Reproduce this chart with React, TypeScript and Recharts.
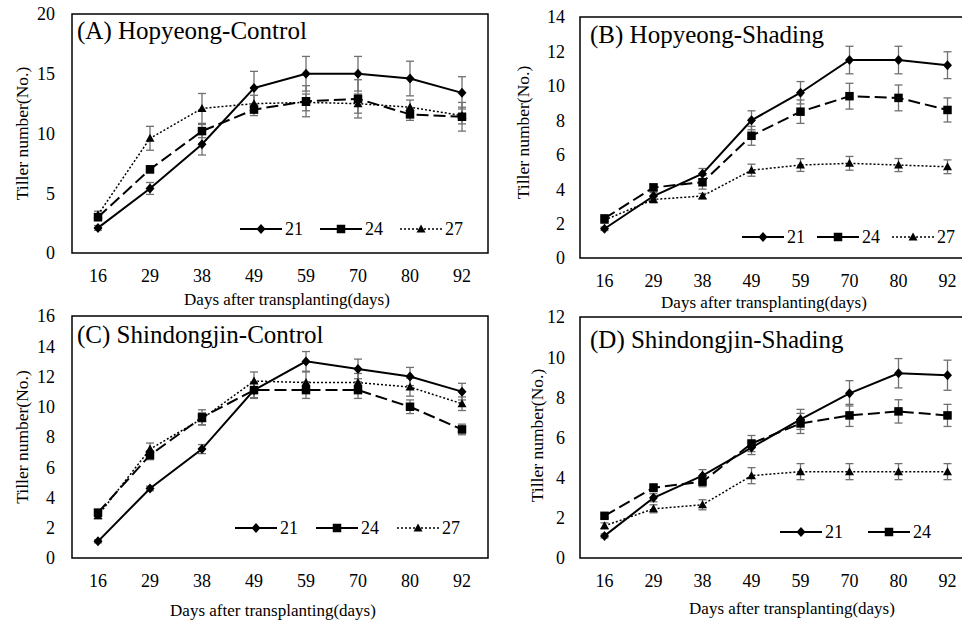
import React from 'react';
import { LineChart, Line, XAxis, YAxis, ErrorBar, ReferenceArea, Legend, Label } from 'recharts';

const FONT = "'Liberation Serif', Tinos, 'DejaVu Serif', 'Noto Serif', serif";

const days = ['16', '29', '38', '49', '59', '70', '80', '92'];

// (A) Hopyeong-Control
const aVal21 = [2.1, 5.4, 9.1, 13.8, 15.0, 15.0, 14.6, 13.4];
const aErr21 = [0.2, 0.5, 0.9, 1.4, 1.45, 1.45, 1.45, 1.35];
const aVal24 = [3.0, 7.0, 10.2, 12.0, 12.7, 12.9, 11.6, 11.4];
const aErr24 = [0.3, 0.3, 0.55, 0.5, 1.3, 1.6, 0.5, 1.2];
const aVal27 = [3.2, 9.6, 12.1, 12.5, 12.6, 12.5, 12.2, 11.5];
const aErr27 = [0.3, 1.0, 1.25, 0.7, 0.7, 0.8, 0.6, 0.7];

// (B) Hopyeong-Shading
const bVal21 = [1.7, 3.6, 4.9, 8.0, 9.6, 11.5, 11.5, 11.2];
const bErr21 = [0.1, 0.2, 0.3, 0.55, 0.65, 0.8, 0.8, 0.78];
const bVal24 = [2.3, 4.1, 4.4, 7.1, 8.5, 9.4, 9.3, 8.6];
const bErr24 = [0.1, 0.2, 0.4, 0.55, 0.68, 0.75, 0.75, 0.7];
const bVal27 = [2.2, 3.4, 3.6, 5.1, 5.4, 5.5, 5.4, 5.3];
const bErr27 = [0.1, 0.2, 0.15, 0.35, 0.37, 0.4, 0.38, 0.4];

// (C) Shindongjin-Control
const cVal21 = [1.1, 4.6, 7.2, 11.1, 13.0, 12.5, 12.0, 11.0];
const cErr21 = [0.1, 0.15, 0.3, 0.5, 0.65, 0.65, 0.6, 0.55];
const cVal24 = [3.0, 6.8, 9.3, 11.1, 11.1, 11.1, 10.0, 8.5];
const cErr24 = [0.2, 0.3, 0.5, 0.55, 0.55, 0.55, 0.45, 0.35];
const cVal27 = [2.8, 7.2, 9.2, 11.7, 11.6, 11.6, 11.3, 10.2];
const cErr27 = [0.2, 0.4, 0.4, 0.6, 0.7, 0.6, 0.6, 0.45];

// (D) Shindongjin-Shading
const dVal21 = [1.1, 3.0, 4.1, 5.5, 6.9, 8.2, 9.2, 9.1];
const dErr21 = [0.1, 0.2, 0.3, 0.35, 0.5, 0.63, 0.73, 0.75];
const dVal24 = [2.1, 3.5, 3.8, 5.7, 6.7, 7.1, 7.3, 7.1];
const dErr24 = [0.1, 0.2, 0.25, 0.4, 0.5, 0.55, 0.58, 0.55];
const dVal27 = [1.6, 2.45, 2.65, 4.1, 4.3, 4.3, 4.3, 4.3];
const dErr27 = [0.15, 0.2, 0.25, 0.4, 0.4, 0.4, 0.4, 0.4];

const yTicksA = [0, 5, 10, 15, 20];
const yTicksB = [0, 2, 4, 6, 8, 10, 12, 14];
const yTicksC = [0, 2, 4, 6, 8, 10, 12, 14, 16];
const yTicksD = [0, 2, 4, 6, 8, 10, 12];

const buildRows = (v21, e21, v24, e24, v27, e27) =>
  days.map((day, i) => ({
    i,
    day,
    v21: v21[i],
    e21: e21[i],
    v24: v24[i],
    e24: e24[i],
    v27: v27[i],
    e27: e27[i],
  }));

const Diamond = ({ cx, cy }: any) => (
  <polygon points={`${cx},${cy - 5} ${cx + 4.5},${cy} ${cx},${cy + 5} ${cx - 4.5},${cy}`} fill="#000" />
);
const Square = ({ cx, cy }: any) => <rect x={cx - 4.25} y={cy - 4.25} width={8.5} height={8.5} fill="#000" />;
const Triangle = ({ cx, cy }: any) => (
  <polygon points={`${cx},${cy - 4.5} ${cx + 4.5},${cy + 3.5} ${cx - 4.5},${cy + 3.5}`} fill="#000" />
);

const markers: any = { v21: Diamond, v24: Square, v27: Triangle };
const dotFor = (Shape: any) => (p: any) => <Shape key={p.index} cx={p.cx} cy={p.cy} />;

const legendContent = (itemW: number, hide: string[]) => ({ payload }: any) => (
  <div style={{ display: 'flex', alignItems: 'center', fontFamily: FONT, fontSize: 18, lineHeight: '22px', color: '#000' }}>
    {(payload || [])
      .filter((entry: any) => !hide.includes(entry.dataKey))
      .map((entry: any) => {
        const Shape = markers[entry.dataKey];
        const dotted = entry.dataKey === 'v27';
        return (
          <div key={entry.dataKey} style={{ display: 'flex', alignItems: 'center', width: itemW }}>
            <svg width={42} height={12}>
              <line x1={0} y1={6} x2={42} y2={6} stroke="#000" strokeWidth={dotted ? 1.5 : 2} strokeDasharray={dotted ? '2 2' : undefined} />
              <Shape cx={21} cy={6} />
            </svg>
            <span style={{ marginLeft: 3 }}>{entry.value}</span>
          </div>
        );
      })}
  </div>
);

const Panel = ({ cfg, rows, title, yMax, yTicks, hideLegend = [] }: any) => {
  const yAxisW = 72;
  const width = yAxisW + cfg.plotW + 4;
  const height = cfg.plotTop + cfg.plotH + 70;
  return (
    <div style={{ position: 'absolute', left: cfg.plotLeft - yAxisW, top: cfg.top }}>
      <LineChart width={width} height={height} data={rows} margin={{ top: cfg.plotTop, right: 4, bottom: 0, left: 0 }}>
        <XAxis
          dataKey="i"
          type="number"
          domain={[-0.5, 7.5]}
          ticks={days.map((_, i) => i)}
          tickFormatter={(i) => days[i]}
          interval={0}
          axisLine={false}
          tickLine={false}
          tickSize={0}
          tickMargin={16}
          height={70}
          tick={{ fill: '#000', fontSize: 18, fontFamily: FONT }}
        >
          <Label
            content={({ viewBox }: any) => (
              <text
                x={viewBox.x + viewBox.width / 2 + cfg.xLabelDx}
                y={viewBox.y + cfg.xLabelDy}
                textAnchor="middle"
                dominantBaseline="central"
                fontFamily={FONT}
                fontSize={17}
                fill="#000"
              >
                Days after transplanting(days)
              </text>
            )}
          />
        </XAxis>
        <YAxis
          type="number"
          domain={[0, yMax]}
          ticks={yTicks}
          interval={0}
          axisLine={false}
          tickLine={false}
          tickSize={0}
          tickMargin={cfg.yTickGap}
          width={yAxisW}
          tick={{ fill: '#000', fontSize: 18, fontFamily: FONT }}
        >
          <Label
            content={({ viewBox }: any) => {
              const x = viewBox.x + viewBox.width - cfg.yLabelGap;
              const y = viewBox.y + viewBox.height / 2 + cfg.yLabelDy;
              return (
                <text
                  x={x}
                  y={y}
                  transform={`rotate(-90, ${x}, ${y})`}
                  textAnchor="middle"
                  dominantBaseline="central"
                  fontFamily={FONT}
                  fontSize={17.5}
                  fill="#000"
                >
                  Tiller number(No.)
                </text>
              );
            }}
          />
        </YAxis>
        <ReferenceArea x1={-0.5} x2={7.5} y1={0} y2={yMax} fill="none" stroke="#000" strokeWidth={1.5} ifOverflow="visible">
          <Label
            content={({ viewBox }: any) => (
              <text x={viewBox.x + cfg.titleDx} y={viewBox.y + cfg.titleBase} fontFamily={FONT} fontSize={25} fill="#000">
                {title}
              </text>
            )}
          />
        </ReferenceArea>
        <Line
          dataKey="v27"
          name="27"
          stroke="#000"
          strokeWidth={1.5}
          strokeDasharray="2 2"
          dot={dotFor(Triangle)}
          activeDot={false}
          isAnimationActive={false}
        >
          <ErrorBar dataKey="e27" width={4} stroke="#707070" strokeWidth={1.3} direction="y" isAnimationActive={false} />
        </Line>
        <Line
          dataKey="v24"
          name="24"
          stroke="#000"
          strokeWidth={2}
          strokeDasharray="12 5"
          dot={dotFor(Square)}
          activeDot={false}
          isAnimationActive={false}
        >
          <ErrorBar dataKey="e24" width={4} stroke="#707070" strokeWidth={1.3} direction="y" isAnimationActive={false} />
        </Line>
        <Line
          dataKey="v21"
          name="21"
          stroke="#000"
          strokeWidth={2}
          dot={dotFor(Diamond)}
          activeDot={false}
          isAnimationActive={false}
        >
          <ErrorBar dataKey="e21" width={4} stroke="#707070" strokeWidth={1.3} direction="y" isAnimationActive={false} />
        </Line>
        <Legend
          layout="horizontal"
          verticalAlign="middle"
          align="center"
          itemSorter={(item: any) => item.value}
          wrapperStyle={{ left: cfg.legendX - (cfg.plotLeft - yAxisW), top: cfg.legendY - cfg.top - 11, width: 'auto' }}
          content={legendContent(cfg.legendItemW, hideLegend)}
        />
      </LineChart>
    </div>
  );
};

const cfgA = { top: 0, plotLeft: 72, plotTop: 14, plotW: 416, plotH: 239, yTickGap: 17, yLabelGap: 50, yLabelDy: 0, xLabelDx: 7, xLabelDy: 46, titleDx: 5, titleBase: 25, legendX: 240, legendY: 229, legendItemW: 80 };
const cfgB = { top: 0, plotLeft: 580, plotTop: 17, plotW: 392, plotH: 241, yTickGap: 15, yLabelGap: 57, yLabelDy: -5, xLabelDx: -12, xLabelDy: 44, titleDx: 10, titleBase: 26, legendX: 742, legendY: 237, legendItemW: 75 };
const cfgC = { top: 300, plotLeft: 72, plotTop: 16, plotW: 416, plotH: 242, yTickGap: 17, yLabelGap: 50, yLabelDy: 0, xLabelDx: -7, xLabelDy: 52, titleDx: 5, titleBase: 27, legendX: 235, legendY: 528, legendItemW: 81 };
const cfgD = { top: 300, plotLeft: 580, plotTop: 17, plotW: 392, plotH: 241, yTickGap: 15, yLabelGap: 43, yLabelDy: -2, xLabelDx: 16, xLabelDy: 50, titleDx: 10, titleBase: 31, legendX: 780, legendY: 532, legendItemW: 88 };

export default function App() {
  return (
    <div style={{ position: 'fixed', left: 0, top: 0, width: 962, height: 623, overflow: 'hidden', background: '#fff' }}>
      <Panel cfg={cfgA} rows={buildRows(aVal21, aErr21, aVal24, aErr24, aVal27, aErr27)} title="(A) Hopyeong-Control" yMax={20} yTicks={yTicksA} />
      <Panel cfg={cfgB} rows={buildRows(bVal21, bErr21, bVal24, bErr24, bVal27, bErr27)} title="(B) Hopyeong-Shading" yMax={14} yTicks={yTicksB} />
      <Panel cfg={cfgC} rows={buildRows(cVal21, cErr21, cVal24, cErr24, cVal27, cErr27)} title="(C) Shindongjin-Control" yMax={16} yTicks={yTicksC} />
      <Panel cfg={cfgD} rows={buildRows(dVal21, dErr21, dVal24, dErr24, dVal27, dErr27)} title="(D) Shindongjin-Shading" yMax={12} yTicks={yTicksD} hideLegend={['v27']} />
    </div>
  );
}
